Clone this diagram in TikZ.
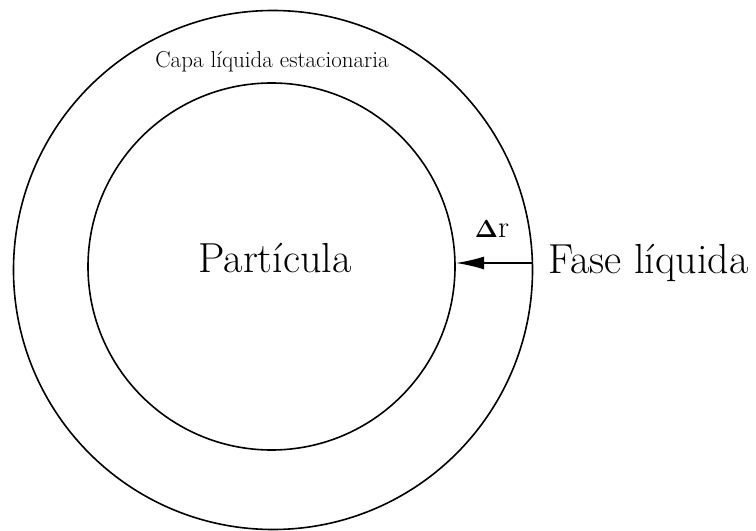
\documentclass[tikz,border=0pt]{standalone}
\usetikzlibrary{arrows.meta}
\begin{document}
\begin{tikzpicture}[x=1bp,y=-1bp,
  ring/.style={circle,draw=black,line width=1.6bp,inner sep=0pt},
  arr/.style={line width=1.6bp,-{Latex[length=28bp,width=13bp]}},
  bigtxt/.style={inner sep=0pt,font=\fontsize{42bp}{44bp}\selectfont},
  smalltxt/.style={inner sep=0pt,font=\fontsize{23bp}{25bp}\selectfont}]
\useasboundingbox (0,0) rectangle (756,531);
\node[ring,minimum size=519bp] (outer) at (273,270) {};
\node[ring,minimum size=367bp] (inner) at (271.5,266.5) {};
\node[smalltxt,anchor=base] (capa) at (272,67.5) {Capa líquida estacionaria};
\node[bigtxt,anchor=base] (part) at (275,273) {Partícula};
\node[bigtxt,anchor=base west] (fase) at (548,273.5) {Fase líquida};
\node[inner sep=0pt,anchor=base,font=\fontsize{31bp}{33bp}\selectfont] (dr) at (492,237.5) {$\mathbf{\Delta}$r};
\coordinate (from) at (532,263);
\coordinate (to) at (456,263);
\draw[arr] (from) -- (to);
\end{tikzpicture}
\end{document}
